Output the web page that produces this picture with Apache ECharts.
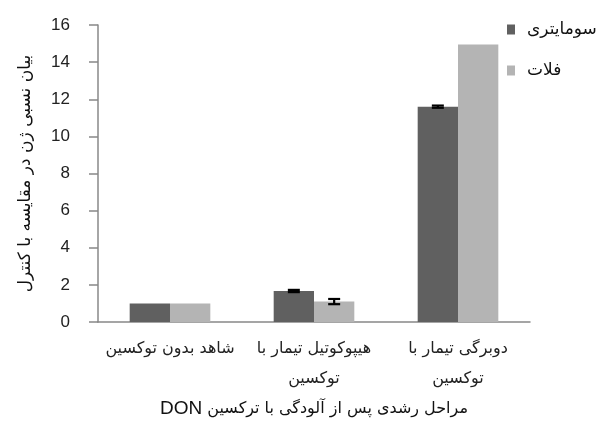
<!DOCTYPE html>
<html>
<head>
<meta charset="utf-8">
<script src="https://cdn.jsdelivr.net/npm/echarts@6/dist/echarts.min.js"></script>
<style>
  html, body { margin: 0; padding: 0; background: #fff; }
  #chart { width: 603px; height: 423px; }
</style>
</head>
<body>
<div id="chart"></div>
<script>
// growth stages (x categories)
const categories = ['شاهد بدون توکسین', 'هیپوکوتیل تیمار با\nتوکسین', 'دوبرگی تیمار با\nتوکسین']
const seriesNames = ['سومایتری', 'فلات']
const somaytari = [1, 1.67, 11.6]
const falat = [1, 1.1, 14.95]
// standard errors
const somaytariErr = [0, 0.06, 0.06]
const falatErr = [0, 0.14, 0]

const barGapPct = 44
const darkColor = '#606060'
const lightColor = '#b4b4b4'

function errorSeries(values, errs, side) {
  return {
    type: 'custom',
    z: 10,
    silent: true,
    data: values.map((v, i) => [i, v, errs[i]]),
    encode: { x: 0, y: 1 },
    renderItem: function(params, api) {
      const err = api.value(2)
      if (!err) return null
      const idx = api.value(0)
      const val = api.value(1)
      const band = api.size([1, 0])[0]
      const barW = band * (1 - barGapPct / 100) / 2
      const x = api.coord([idx, val])[0] + side * barW / 2
      const yHi = api.coord([idx, val + err])[1]
      const yLo = api.coord([idx, val - err])[1]
      const half = 6
      const style = { stroke: '#000', lineWidth: 2.2 }
      return {
        type: 'group',
        children: [
          { type: 'line', shape: { x1: x, y1: yHi, x2: x, y2: yLo }, style: style },
          { type: 'line', shape: { x1: x - half, y1: yHi, x2: x + half, y2: yHi }, style: style },
          { type: 'line', shape: { x1: x - half, y1: yLo, x2: x + half, y2: yLo }, style: style }
        ]
      }
    }
  }
}

const chart = echarts.init(document.getElementById('chart'))
chart.setOption({
  animation: false,
  grid: { left: 98, right: 73, top: 25, bottom: 101 },
  legend: {
    orient: 'vertical',
    left: 502,
    top: 15,
    icon: 'rect',
    itemWidth: 8,
    itemHeight: 10,
    itemGap: 22,
    selectedMode: false,
    data: seriesNames,
    textStyle: {
      fontFamily: 'DejaVu Sans',
      fontSize: 17,
      lineHeight: 19,
      color: '#111',
      padding: [0, 0, 0, 7]
    }
  },
  xAxis: {
    type: 'category',
    data: categories,
    // rich pieces, ordered so DON lands at the right end as in the source
    name: '{b|DON}{a| مراحل رشدی پس از آلودگی با ترکسین}',
    nameLocation: 'middle',
    nameGap: 76,
    nameTextStyle: {
      fontFamily: 'DejaVu Sans',
      fontSize: 16,
      color: '#111',
      rich: {
        a: { fontFamily: 'DejaVu Sans', fontSize: 16, color: '#111' },
        b: { fontFamily: 'Liberation Sans', fontSize: 19, color: '#111' }
      }
    },
    axisLine: { lineStyle: { color: '#888', width: 1.5 } },
    axisTick: { length: 6, lineStyle: { color: '#888', width: 1.5 } },
    axisLabel: {
      interval: 0,
      margin: 12,
      fontFamily: 'DejaVu Sans',
      fontSize: 16,
      lineHeight: 30,
      color: '#222'
    }
  },
  yAxis: {
    type: 'value',
    min: 0,
    max: 16,
    interval: 2,
    name: 'بیان نسبی ژن در مقایسه با کنترل',
    nameLocation: 'middle',
    nameGap: 64,
    nameTextStyle: { fontFamily: 'DejaVu Sans', fontSize: 17, color: '#111' },
    splitLine: { show: false },
    axisLine: { show: true, lineStyle: { color: '#888', width: 1.5 } },
    axisTick: { show: true, length: 9, lineStyle: { color: '#888', width: 1.5 } },
    axisLabel: {
      margin: 28,
      fontFamily: 'Liberation Sans',
      fontSize: 17,
      color: '#222'
    }
  },
  series: [
    {
      name: seriesNames[0],
      type: 'bar',
      data: somaytari,
      barGap: 0,
      barCategoryGap: barGapPct + '%',
      itemStyle: { color: darkColor }
    },
    {
      name: seriesNames[1],
      type: 'bar',
      data: falat,
      barGap: 0,
      barCategoryGap: barGapPct + '%',
      itemStyle: { color: lightColor }
    },
    errorSeries(somaytari, somaytariErr, -1),
    errorSeries(falat, falatErr, 1)
  ]
})
</script>
</body>
</html>
